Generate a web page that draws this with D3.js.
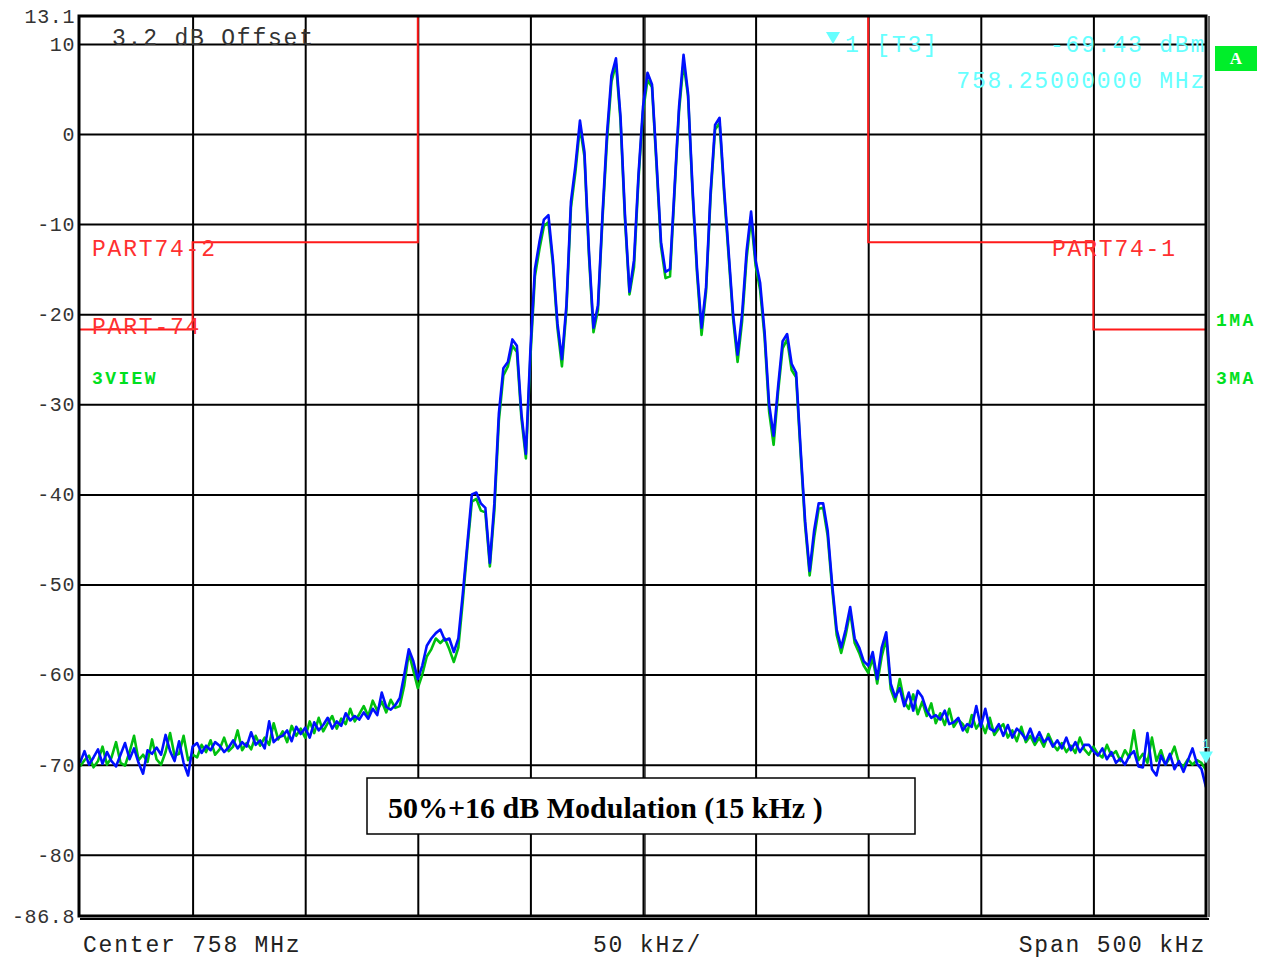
<!DOCTYPE html>
<html>
<head>
<meta charset="utf-8">
<script src="https://cdn.jsdelivr.net/npm/d3@7"></script>
<style>
  body { margin: 0; background: #fff; }
  .mono { font-family: "Liberation Mono", "DejaVu Sans Mono", monospace; }
</style>
</head>
<body>
<div id="container"></div>
<script>
const width = 1266;
const height = 958;
const margin = { t: 16, r: 60, b: 42, l: 80 };

// sweep: center 758 MHz, span 500 kHz, one sample every 2 kHz
const spanKHz = [-250, 250];
const levelRange = [-86.8, 13.1];
const stepKHz = 2;

// trace 3 (green, view) dBm, from -250 kHz to +250 kHz
const traceView = [
  -70.2, -69.5, -69.0, -70.3, -69.6, -68.0, -70.0, -69.2, -67.5, -69.8,
  -70.1, -68.6, -66.8, -69.5, -68.9, -69.7, -67.2, -69.4, -70.0, -68.6,
  -66.5, -69.0, -68.8, -66.8, -69.5, -68.9, -69.2, -67.8, -68.6, -67.3,
  -68.9, -68.3, -67.0, -68.5, -68.0, -66.2, -68.4, -67.6, -68.3, -66.8,
  -67.9, -67.0, -67.8, -65.4, -67.2, -66.3, -67.5, -65.7, -66.8, -66.0,
  -67.0, -65.2, -66.5, -64.8, -66.3, -65.4, -64.6, -66.0, -64.9, -65.5,
  -63.8, -65.2, -64.4, -63.5, -64.6, -62.9, -64.0, -63.0, -64.2, -62.8,
  -63.7, -63.5, -61.2, -57.6, -59.5, -61.5, -60.0, -58.0, -57.2, -56.0,
  -56.5, -56.0, -57.2, -58.6, -57.0, -51.8, -46.0, -40.8, -40.5, -41.8,
  -42.0, -48.0, -41.8, -31.8, -26.8, -25.8, -23.5, -24.2, -31.5, -36.0,
  -24.8, -15.8, -12.8, -10.2, -9.8, -14.5, -21.5, -25.8, -19.5, -8.2,
  -4.2, 0.8, -2.5, -13.5, -22.0, -19.5, -9.5, -0.8, 5.8, 7.8,
  1.5, -9.5, -17.8, -14.8, -5.0, 2.5, 6.0, 5.2, -3.5, -12.5,
  -16.0, -15.8, -6.5, 2.5, 7.9, 4.2, -6.5, -15.5, -22.3, -17.5,
  -7.0, 0.5, 1.2, -6.5, -13.5, -20.5, -25.3, -20.8, -13.8, -9.3,
  -14.6, -17.3, -22.6, -30.8, -34.5, -28.6, -23.8, -22.8, -26.2, -27.0,
  -35.5, -43.5, -49.0, -44.8, -41.6, -41.5, -44.6, -50.5, -55.6, -57.6,
  -55.6, -53.0, -56.5, -57.6, -59.0, -59.8, -58.2, -61.0, -58.0, -56.0,
  -61.6, -63.0, -60.5, -63.0, -63.8, -62.2, -64.4, -63.0, -64.6, -63.2,
  -65.4, -64.3, -65.6, -63.8, -65.8, -65.0, -65.5, -66.4, -64.5, -66.0,
  -65.2, -66.5, -64.8, -66.7, -66.0, -65.5, -67.0, -66.2, -67.4, -65.8,
  -67.5, -66.8, -67.8, -67.0, -68.0, -66.6, -67.7, -68.4, -67.6, -68.6,
  -67.9, -68.7, -67.0, -68.3, -68.9, -68.0, -68.8, -69.2, -67.8, -69.0,
  -68.5, -69.6, -68.4, -69.2, -66.2, -69.5, -68.8, -69.8, -67.0, -69.6,
  -68.4, -70.0, -69.2, -68.0, -69.8, -70.2, -69.4, -70.0, -69.5, -69.8,
  -70.6
];

// trace 1 (blue, max avg) dBm
const traceMA = [
  -69.8, -68.5, -70.0, -69.2, -68.3, -69.9, -68.6, -69.6, -70.2, -68.9,
  -67.6, -69.4, -68.2, -69.8, -71.0, -68.4, -68.8, -68.1, -68.9, -66.7,
  -68.5, -69.6, -67.4, -69.8, -71.2, -68.0, -67.6, -68.7, -67.9, -68.4,
  -67.5, -67.9, -68.6, -68.1, -67.3, -68.2, -67.5, -68.0, -66.4, -67.8,
  -67.3, -68.2, -65.2, -67.5, -67.0, -66.8, -66.2, -67.4, -65.8, -66.6,
  -65.9, -67.0, -65.3, -66.2, -65.6, -64.8, -66.0, -65.2, -65.7, -64.3,
  -65.1, -64.6, -65.0, -64.2, -64.9, -63.8, -64.5, -62.0, -63.6, -63.9,
  -63.4, -62.6, -60.0, -57.2, -58.5, -60.5, -59.0, -56.8, -56.0, -55.4,
  -55.0, -56.2, -56.0, -57.5, -56.0, -51.0, -45.5, -40.0, -39.8, -41.0,
  -41.5, -47.6, -41.0, -31.0, -26.0, -25.3, -22.8, -23.5, -31.0, -35.5,
  -24.0, -15.0, -12.0, -9.5, -9.0, -14.0, -21.0, -25.0, -19.0, -7.5,
  -3.5, 1.5, -2.0, -13.0, -21.5, -19.0, -9.0, 0.0, 6.5, 8.4,
  2.0, -9.0, -17.5, -14.0, -4.5, 3.0, 6.8, 5.5, -3.0, -12.0,
  -15.3, -15.0, -6.0, 3.0, 8.8, 4.5, -6.0, -15.0, -21.5, -17.0,
  -6.5, 1.0, 1.8, -6.0, -13.0, -20.0, -24.5, -20.0, -13.0, -8.6,
  -14.0, -16.5, -22.0, -30.0, -33.5, -28.0, -23.0, -22.2, -25.5, -26.5,
  -35.0, -43.0, -48.5, -44.0, -41.0, -41.0, -44.0, -50.0, -55.0, -57.0,
  -55.0, -52.5, -56.0, -57.0, -58.5, -59.0, -57.5, -60.5, -57.0, -55.3,
  -61.0, -62.5, -61.5, -63.5, -62.0, -64.0, -61.8, -62.5, -64.0, -64.8,
  -64.5, -65.0, -64.0, -65.5, -65.3, -64.8, -66.2, -65.5, -65.8, -63.5,
  -65.8, -63.8, -66.0, -66.3, -65.5, -66.8, -65.6, -67.0, -66.0, -66.5,
  -67.2, -66.0, -67.4, -66.4, -67.5, -67.0, -68.0, -67.3, -68.2, -67.0,
  -68.4, -67.5, -68.6, -67.8, -67.8, -68.5, -69.0, -68.2, -69.4, -68.6,
  -69.8, -69.3, -70.0, -69.0, -68.5, -70.2, -70.3, -66.5, -70.5, -71.2,
  -69.0, -70.0, -68.8, -70.5, -69.6, -70.8, -69.5, -68.2, -69.9, -70.5,
  -72.5
];

// limit lines (kHz offset, dBm)
const limitLowKHz = [-250, -200, -200, -100, -100];
const limitLowDb = [-21.7, -21.7, -12, -12, 13.1];
const limitHighKHz = [100, 100, 200, 200, 250];
const limitHighDb = [13.1, -12, -12, -21.7, -21.7];

const gridDb = [10, 0, -10, -20, -30, -40, -50, -60, -70, -80];
const gridKHz = [-200, -150, -100, -50, 0, 50, 100, 150, 200];
const yTickValues = [13.1, 10, 0, -10, -20, -30, -40, -50, -60, -70, -80, -86.8];
const yTickLabels = ["13.1", "10", "0", "-10", "-20", "-30", "-40", "-50", "-60", "-70", "-80", "-86.8"];

const markerKHz = 250;
const markerDb = -69.43;

const x = d3.scaleLinear().domain(spanKHz).range([margin.l, width - margin.r]);
const y = d3.scaleLinear().domain(levelRange).range([height - margin.b, margin.t]);
const plotW = width - margin.l - margin.r;
const plotH = height - margin.t - margin.b;

const svg = d3.select("#container").append("svg")
  .attr("width", width).attr("height", height)
  .attr("viewBox", `0 0 ${width} ${height}`);

svg.append("defs").append("clipPath").attr("id", "plot")
  .append("rect").attr("x", margin.l).attr("y", margin.t).attr("width", plotW).attr("height", plotH);

// grid
const gy = svg.append("g").attr("transform", `translate(${margin.l},0)`)
  .call(d3.axisLeft(y).tickValues(gridDb).tickSize(-plotW).tickFormat(""));
gy.select(".domain").remove();
gy.selectAll("line").attr("stroke", "#000").attr("stroke-width", 2);

const gx = svg.append("g").attr("transform", `translate(0,${height - margin.b})`)
  .call(d3.axisBottom(x).tickValues(gridKHz).tickSize(-plotH).tickFormat(""));
gx.select(".domain").remove();
gx.selectAll("line").attr("stroke", "#000").attr("stroke-width", 2);
// the center line is drawn double
svg.append("line").attr("x1", x(0) + 2).attr("x2", x(0) + 2)
  .attr("y1", margin.t).attr("y2", height - margin.b)
  .attr("stroke", "#000").attr("stroke-width", 1.2);

// y labels
const ya = svg.append("g").attr("transform", `translate(${margin.l - 2},0)`)
  .call(d3.axisLeft(y).tickValues(yTickValues).tickSize(0).tickPadding(3)
    .tickFormat((d, i) => yTickLabels[i]));
ya.select(".domain").remove();
ya.selectAll("text").attr("class", "mono").attr("font-size", 20)
  .attr("letter-spacing", 0.6).attr("fill", "#333");

// limit lines
const limitLine = d3.line().x(d => x(d[0])).y(d => y(d[1]));
svg.append("path").datum(limitLowKHz.map((f, i) => [f, limitLowDb[i]]))
  .attr("d", limitLine).attr("fill", "none").attr("stroke", "#ff1a1a").attr("stroke-width", 2);
svg.append("path").datum(limitHighKHz.map((f, i) => [f, limitHighDb[i]]))
  .attr("d", limitLine).attr("fill", "none").attr("stroke", "#ff1a1a").attr("stroke-width", 2);

// traces
const trace = d3.line().x(d => x(d[0])).y(d => y(d[1]));
const toPts = arr => arr.map((v, i) => [spanKHz[0] + i * stepKHz, v]);
const traces = svg.append("g").attr("clip-path", "url(#plot)");
traces.append("path").datum(toPts(traceView)).attr("d", trace)
  .attr("fill", "none").attr("stroke", "#00c010").attr("stroke-width", 2.6).attr("stroke-linejoin", "round");
traces.append("path").datum(toPts(traceMA)).attr("d", trace)
  .attr("fill", "none").attr("stroke", "#0010ff").attr("stroke-width", 2.6).attr("stroke-linejoin", "round");

// frame
svg.append("rect").attr("x", margin.l - 1).attr("y", margin.t).attr("width", plotW + 1).attr("height", plotH)
  .attr("fill", "none").attr("stroke", "#000").attr("stroke-width", 3);
svg.append("line").attr("x1", width - margin.r + 3).attr("x2", width - margin.r + 3)
  .attr("y1", margin.t).attr("y2", height - margin.b + 1)
  .attr("stroke", "#000").attr("stroke-width", 1.2);
svg.append("line").attr("x1", margin.l).attr("x2", width - margin.r + 3)
  .attr("y1", height - margin.b + 3).attr("y2", height - margin.b + 3)
  .attr("stroke", "#000").attr("stroke-width", 2);

// texts
function mono(tx, ty, s, opts = {}) {
  return svg.append("text").attr("class", "mono")
    .attr("x", tx).attr("y", ty)
    .attr("font-size", opts.size || 23)
    .attr("letter-spacing", opts.ls == null ? 1.8 : opts.ls)
    .attr("font-weight", opts.bold ? "bold" : "normal")
    .attr("text-anchor", opts.anchor || "start")
    .attr("fill", opts.fill || "#333")
    .text(s);
}

mono(112, 45, "3.2 dB Offset");
mono(92, 256, "PART74-2", { fill: "#ff3030" });
mono(92, 334, "PART-74", { fill: "#ff3030" });
mono(1052, 256, "PART74-1", { fill: "#ff3030" });
mono(92, 384, "3VIEW", { fill: "#00e020", bold: true, size: 18, ls: 2.4 });
mono(1216, 326, "1MA", { fill: "#00e020", bold: true, size: 18, ls: 2.4 });
mono(1216, 384, "3MA", { fill: "#00e020", bold: true, size: 18, ls: 2.4 });

// marker readout
const cyan = "#66ffff";
svg.append("path").attr("d", "M826,32 L840,32 L833,44 Z").attr("fill", cyan);
mono(845, 52, "1 [T3]", { fill: cyan });
mono(1206, 52, `${markerDb.toFixed(2)} dBm`, { fill: cyan, anchor: "end" });
mono(1206, 88, "758.25000000 MHz", { fill: cyan, anchor: "end" });

// marker on the trace
const mx = x(markerKHz), my = y(markerDb);
svg.append("path").attr("d", `M${mx - 7},${my - 8} L${mx + 7},${my - 8} L${mx},${my + 4} Z`).attr("fill", cyan);
svg.append("text").attr("class", "mono").attr("x", mx).attr("y", my - 12)
  .attr("font-size", 13).attr("text-anchor", "middle").attr("fill", cyan).text("1");

// "A" badge
svg.append("rect").attr("x", 1215).attr("y", 46).attr("width", 42).attr("height", 25).attr("fill", "#00ee2a");
svg.append("text").attr("x", 1236).attr("y", 64).attr("text-anchor", "middle")
  .attr("font-family", "Liberation Serif, serif").attr("font-weight", "bold")
  .attr("font-size", 17).attr("fill", "#fff").text("A");

// bottom labels
mono(83, 952, "Center 758 MHz", { fill: "#222" });
mono(593, 952, "50 kHz/", { fill: "#222" });
mono(1206, 952, "Span 500 kHz", { fill: "#222", anchor: "end" });

// annotation box
svg.append("rect").attr("x", 367).attr("y", 778).attr("width", 548).attr("height", 56)
  .attr("fill", "#fff").attr("stroke", "#000").attr("stroke-width", 1.5);
svg.append("text").attr("x", 388).attr("y", 818)
  .attr("font-family", "Liberation Serif, Times New Roman, serif").attr("font-weight", "bold")
  .attr("font-size", 30).attr("fill", "#000").text("50%+16 dB Modulation (15 kHz )");
</script>
</body>
</html>
